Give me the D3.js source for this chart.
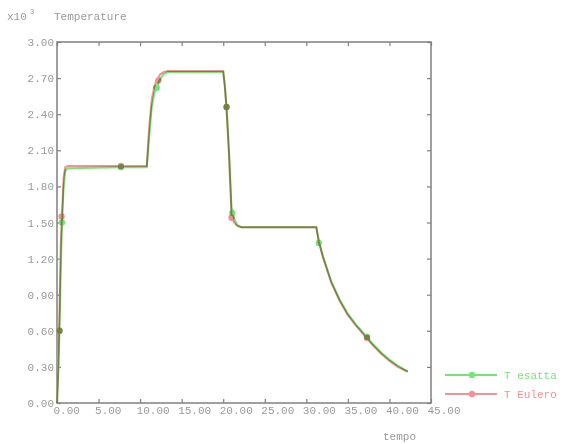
<!doctype html>
<html>
  <head>
    <meta charset='UTF-8'>
    <script src="https://d3js.org/d3.v7.min.js"></script>
    <style>
      body { margin:0; background:#fff; }
      svg { filter: blur(0.7px); }
      text { font-family: "Liberation Mono", "DejaVu Sans Mono", monospace; font-size: 11px; fill: #999; }
    </style>
  </head>
  <body>
    <svg id='render' width='566' height='444'></svg>
    <script>
      // temperature in units of 10^3, time in "tempo"
      const tEsatta = [0, 0.15, 0.3, 0.45, 0.6, 0.8, 1.0, 1.3, 7.7, 10.8, 11.1, 11.4, 11.7, 12.0, 12.4, 12.8, 13.3, 20.0, 20.2, 20.4, 20.7, 21.0, 21.3, 21.7, 22.2, 31.2, 31.5, 32.0, 33.0, 34.0, 35.0, 36.0, 37.0, 38.0, 39.0, 40.0, 41.0, 42.2];
      const vEsatta = [0, 0.25, 0.6, 1.1, 1.5, 1.8, 1.93, 1.95, 1.96, 1.96, 2.22, 2.46, 2.57, 2.63, 2.69, 2.73, 2.75, 2.75, 2.64, 2.46, 2.1, 1.62, 1.53, 1.48, 1.46, 1.46, 1.35, 1.22, 1.01, 0.86, 0.74, 0.65, 0.57, 0.49, 0.42, 0.36, 0.31, 0.26];
      const tEulero = [0, 0.15, 0.3, 0.45, 0.6, 0.8, 1.0, 1.3, 7.7, 10.8, 11.1, 11.4, 11.7, 12.0, 12.4, 12.8, 13.3, 20.0, 20.2, 20.4, 20.7, 21.0, 21.3, 21.7, 22.2, 31.2, 31.5, 32.0, 33.0, 34.0, 35.0, 36.0, 37.0, 38.0, 39.0, 40.0, 41.0, 42.2];
      const vEulero = [0, 0.3, 0.75, 1.3, 1.56, 1.88, 1.96, 1.97, 1.97, 1.97, 2.3, 2.52, 2.63, 2.68, 2.73, 2.75, 2.76, 2.76, 2.62, 2.44, 2.05, 1.56, 1.5, 1.47, 1.46, 1.46, 1.34, 1.21, 1.0, 0.85, 0.73, 0.64, 0.56, 0.48, 0.41, 0.35, 0.3, 0.26];
      const markEsatta = [[0.3, 0.6], [0.6, 1.5], [7.7, 1.96], [12.0, 2.62], [20.4, 2.46], [21.1, 1.58], [31.5, 1.33], [37.3, 0.55]];
      const markEulero = [[0.3, 0.6], [0.55, 1.55], [7.7, 1.97], [12.2, 2.68], [20.4, 2.46], [21.0, 1.54], [37.3, 0.54]];
      const xTicks = [0, 5, 10, 15, 20, 25, 30, 35, 40, 45];
      const yTicks = [0, 0.3, 0.6, 0.9, 1.2, 1.5, 1.8, 2.1, 2.4, 2.7, 3.0];
      const seriesNames = ["T esatta", "T Eulero"];
      const seriesColors = ["#78e478", "#f29292"];

      const svg = d3.select("#render");
      const x = d3.scaleLinear().domain([0, 45]).range([57, 431]);
      const y = d3.scaleLinear().domain([0, 3]).range([403, 42]);
      const fmt = d3.format(".2f");
      const axisCol = "#808080";

      // frame
      svg.append("rect").attr("x", 57).attr("y", 42).attr("width", 374).attr("height", 361)
        .attr("fill", "none").attr("stroke", axisCol).attr("stroke-width", 1.5);

      svg.append("g").attr("transform", "translate(57,0)")
        .call(d3.axisLeft(y).tickValues(yTicks).tickFormat(fmt).tickSizeInner(-4).tickSizeOuter(0).tickPadding(3));
      const bottom = svg.append("g").attr("transform", "translate(0,403)")
        .call(d3.axisBottom(x).tickValues(xTicks).tickFormat(fmt).tickSizeInner(-4).tickSizeOuter(0).tickPadding(4));
      bottom.selectAll("text").attr("text-anchor", "start").attr("dx", "-4").attr("dy", "0.6em");
      svg.append("g").attr("transform", "translate(0,42)")
        .call(d3.axisTop(x).tickValues(xTicks).tickFormat("").tickSizeInner(-4).tickSizeOuter(0));
      svg.append("g").attr("transform", "translate(431,0)")
        .call(d3.axisRight(y).tickValues(yTicks).tickFormat("").tickSizeInner(-4).tickSizeOuter(0));
      svg.selectAll(".domain").remove();
      svg.selectAll(".tick line").attr("stroke", axisCol).attr("stroke-width", 1.2);
      svg.selectAll(".tick text").style("fill", "#999").style("font-family", "Liberation Mono, monospace").style("font-size", "11px");

      // titles
      svg.append("text").attr("x", 7).attr("y", 20).text("x10");
      svg.append("text").attr("x", 30).attr("y", 14).style("font-size", "7px").text("3");
      svg.append("text").attr("x", 54).attr("y", 20).text("Temperature");
      svg.append("text").attr("x", 383).attr("y", 440).text("tempo");

      const line = d3.line().x(d => x(d[0])).y(d => y(d[1]));
      const data = [
        { t: tEsatta, v: vEsatta, m: markEsatta },
        { t: tEulero, v: vEulero, m: markEulero }
      ];
      const plot = svg.append("g").style("isolation", "isolate");
      data.forEach((s, i) => {
        const pts = s.t.map((t, j) => [t, s.v[j]]);
        const g = plot.append("g").style("mix-blend-mode", "multiply");
        g.append("path").datum(pts).attr("d", line)
          .attr("fill", "none").attr("stroke", seriesColors[i]).attr("stroke-width", 2);
        g.selectAll("circle").data(s.m).enter().append("circle")
          .attr("cx", d => x(d[0])).attr("cy", d => y(d[1])).attr("r", 3.2)
          .attr("fill", seriesColors[i]);
      });

      // legend
      const leg = svg.append("g");
      seriesNames.forEach((name, i) => {
        const ly = 375 + i * 19;
        leg.append("line").attr("x1", 445).attr("x2", 497).attr("y1", ly).attr("y2", ly)
          .attr("stroke", seriesColors[i]).attr("stroke-width", 2);
        leg.append("circle").attr("cx", 472).attr("cy", ly).attr("r", 3.2).attr("fill", seriesColors[i]);
        leg.append("text").attr("x", 504).attr("y", ly + 4).style("fill", seriesColors[i]).text(name);
      });
    </script>
  </body>
</html>
